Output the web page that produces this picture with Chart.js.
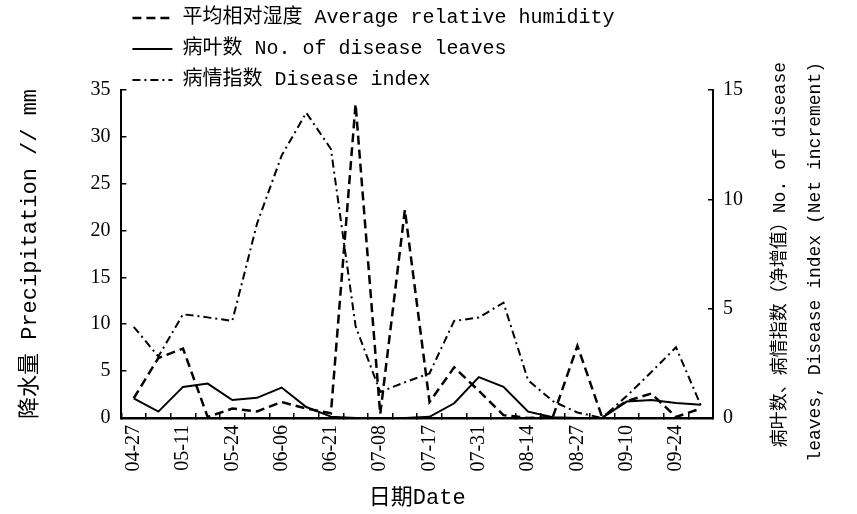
<!DOCTYPE html>
<html lang="zh">
<head>
  <meta charset="UTF-8">
  <title>降水量与病情</title>
  <script src="https://cdn.jsdelivr.net/npm/chart.js"></script>
  <style>
    html, body {
      margin: 0;
      padding: 0;
      background: #fff;
    }
  </style>
</head>
<body>
  <canvas id="chart" width="857" height="514"></canvas>

  <script>
    // every other sampling date carries a label, like the original axis
    const dates = [
      '04-27', '', '05-11', '', '05-24', '', '06-06', '', '06-21', '', '07-08', '',
      '07-17', '', '07-31', '', '08-14', '', '08-27', '', '09-10', '', '09-24', ''
    ];

    // left axis (0-35)
    const humidity = [
      2.1, 6.4, 7.4, 0.1, 1.0, 0.7, 1.7, 1.0, 0.5, 33.5, 0.4, 22.2,
      1.7, 5.4, 2.9, 0.3, 0.0, 0.1, 7.7, 0.1, 1.8, 2.6, 0.1, 1.0
    ];

    // right axis (0-15)
    const diseaseLeaves = [
      0.89, 0.29, 1.42, 1.57, 0.82, 0.92, 1.39, 0.5, 0.06, 0, 0, 0,
      0.05, 0.67, 1.87, 1.42, 0.29, 0.03, 0, 0, 0.75, 0.82, 0.68, 0.6
    ];
    const diseaseIndex = [
      4.17, 2.81, 4.74, 4.6, 4.44, 8.88, 12.0, 13.96, 12.3, 4.2, 1.19, 1.63,
      2.04, 4.44, 4.59, 5.27, 1.72, 0.77, 0.25, 0, 1.0, 2.1, 3.23, 0.59
    ];

    const seriesNames = [
      '平均相对湿度 Average relative humidity',
      '病叶数 No. of disease leaves',
      '病情指数 Disease index'
    ];
    const leftTitle = '降水量 Precipitation // mm';
    const bottomTitle = '日期Date';
    const rightTitleLines = [
      '病叶数、病情指数（净增值）No. of disease',
      'leaves, Disease index (Net increment)'
    ];

    const monoFont = '"Liberation Mono", "Noto Sans CJK SC", monospace';
    const serifFont = '"Liberation Serif", "Noto Sans CJK SC", serif';

    Chart.defaults.color = '#000';

    // right title reads bottom-to-top like the left one
    const rightTitle = {
      id: 'rightTitle',
      afterDraw(chart) {
        const { ctx, chartArea } = chart;
        ctx.save();
        ctx.fillStyle = '#000';
        ctx.font = '18px ' + monoFont;
        ctx.textAlign = 'right';
        ctx.textBaseline = 'middle';
        rightTitleLines.forEach((line, i) => {
          ctx.save();
          ctx.translate(chartArea.right + 67 + i * 35, chartArea.top - 28);
          ctx.rotate(-Math.PI / 2);
          ctx.fillText(line, 0, 0);
          ctx.restore();
        });
        ctx.restore();
      }
    };

    function axisGrid() {
      return {
        drawOnChartArea: false,
        tickLength: -5,
        color: '#000',
        lineWidth: 1.5
      };
    }

    new Chart(document.getElementById('chart'), {
      type: 'line',
      data: {
        labels: dates,
        datasets: [
          {
            label: seriesNames[0],
            data: humidity,
            yAxisID: 'y',
            borderColor: '#000',
            borderWidth: 2.5,
            borderDash: [9, 5],
            pointRadius: 0,
            pointStyle: 'line',
            tension: 0
          },
          {
            label: seriesNames[1],
            data: diseaseLeaves,
            yAxisID: 'y1',
            borderColor: '#000',
            borderWidth: 2,
            pointRadius: 0,
            pointStyle: 'line',
            tension: 0
          },
          {
            label: seriesNames[2],
            data: diseaseIndex,
            yAxisID: 'y1',
            borderColor: '#000',
            borderWidth: 2,
            borderDash: [8, 4, 2, 4],
            pointRadius: 0,
            pointStyle: 'line',
            tension: 0
          }
        ]
      },
      options: {
        responsive: false,
        animation: false,
        layout: {
          padding: { top: -3, right: 99, bottom: 0, left: 0 }
        },
        plugins: {
          tooltip: { enabled: false },
          legend: {
            position: 'top',
            align: 'start',
            fullSize: false,
            maxHeight: 93,
            labels: {
              usePointStyle: true,
              pointStyleWidth: 40,
              padding: 11,
              color: '#000',
              font: { family: monoFont, size: 20 },
              generateLabels(chart) {
                const items = Chart.defaults.plugins.legend.labels.generateLabels(chart);
                items.forEach((item) => {
                  const ds = chart.data.datasets[item.datasetIndex];
                  item.lineDash = ds.borderDash || [];
                  item.lineWidth = ds.borderWidth;
                  item.strokeStyle = ds.borderColor;
                  item.pointStyle = 'line';
                });
                return items;
              }
            }
          }
        },
        scales: {
          x: {
            type: 'category',
            offset: true,
            grid: Object.assign(axisGrid(), { offset: true }),
            border: { color: '#000', width: 2.5 },
            ticks: {
              autoSkip: false,
              maxRotation: 90,
              minRotation: 90,
              padding: 12,
              font: { family: serifFont, size: 20 }
            },
            title: {
              display: true,
              text: bottomTitle,
              font: { family: monoFont, size: 22 },
              padding: { top: 1, bottom: 3 }
            }
          },
          y: {
            position: 'left',
            min: 0,
            max: 35,
            grid: axisGrid(),
            border: { color: '#000', width: 2 },
            ticks: {
              stepSize: 5,
              padding: 16,
              font: { family: serifFont, size: 20 }
            },
            title: {
              display: true,
              text: leftTitle,
              font: { family: monoFont, size: 22 },
              padding: { top: 17, bottom: 31 }
            }
          },
          y1: {
            position: 'right',
            min: 0,
            max: 15,
            grid: axisGrid(),
            border: { color: '#000', width: 2 },
            ticks: {
              stepSize: 5,
              padding: 15,
              font: { family: serifFont, size: 20 }
            }
          }
        }
      },
      plugins: [rightTitle]
    });
  </script>
</body>
</html>
